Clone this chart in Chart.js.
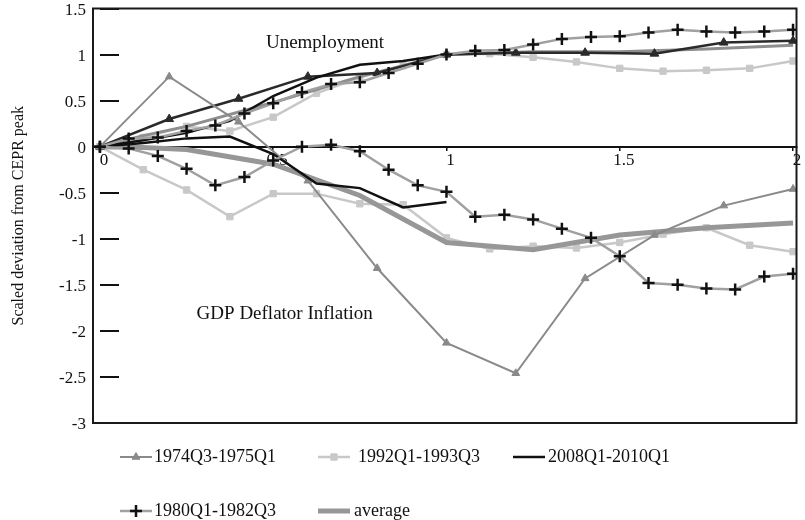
<!DOCTYPE html>
<html>
<head>
<meta charset="utf-8">
<script src="https://cdn.jsdelivr.net/npm/chart.js@4.4.1/dist/chart.umd.min.js"></script>
<style>
  html, body { margin: 0; padding: 0; background: #fff; }
</style>
</head>
<body>
<canvas id="chart" width="805" height="520"></canvas>
<script>
// time since CEPR peak, scaled (each episode has its own step)
const x1974 = [0, 0.2, 0.4, 0.6, 0.8, 1, 1.2, 1.4, 1.6, 1.8, 2];
const x1992 = [0, 0.125, 0.25, 0.375, 0.5, 0.625, 0.75, 0.875, 1, 1.125, 1.25, 1.375, 1.5, 1.625, 1.75, 1.875, 2];
const x2008 = [0, 0.125, 0.25, 0.375, 0.5, 0.625, 0.75, 0.875, 1];
const x1980 = [0, 0.083, 0.167, 0.25, 0.333, 0.417, 0.5, 0.583, 0.667, 0.75, 0.833, 0.917, 1,
               1.083, 1.167, 1.25, 1.333, 1.417, 1.5, 1.583, 1.667, 1.75, 1.833, 1.917, 2];
const xAvg = [0, 0.125, 0.25, 0.5, 0.75, 1, 1.25, 1.5, 1.75, 2];

// unemployment (upper bundle)
const unemp1974 = [0, 0.30, 0.52, 0.76, 0.80, 1.0, 1.02, 1.02, 1.01, 1.13, 1.15];
const unemp1992 = [0, 0.10, 0.22, 0.17, 0.32, 0.58, 0.75, 0.88, 1.0, 1.01, 0.97, 0.92, 0.85, 0.82, 0.83, 0.85, 0.93];
const unemp2008 = [0, 0.07, 0.15, 0.28, 0.55, 0.75, 0.89, 0.93, 1.0];
const unemp1980 = [0, 0.09, 0.10, 0.17, 0.23, 0.36, 0.47, 0.59, 0.68, 0.70, 0.80, 0.90, 1.0,
                   1.04, 1.05, 1.11, 1.17, 1.19, 1.20, 1.24, 1.27, 1.25, 1.24, 1.25, 1.27];
const unempAvg = [0, 0.12, 0.22, 0.48, 0.76, 1.0, 1.03, 1.03, 1.06, 1.10];

// GDP deflator inflation (lower bundle)
const infl1974 = [0, 0.76, 0.27, -0.37, -1.32, -2.13, -2.46, -1.43, -0.96, -0.64, -0.46];
const infl1992 = [0, -0.25, -0.47, -0.76, -0.51, -0.51, -0.62, -0.63, -0.99, -1.11, -1.08, -1.10, -1.04, -0.95, -0.88, -1.07, -1.14];
const infl2008 = [0, 0.04, 0.09, 0.11, -0.08, -0.40, -0.45, -0.66, -0.60];
const infl1980 = [0, -0.02, -0.10, -0.24, -0.42, -0.33, -0.15, 0.0, 0.02, -0.05, -0.25, -0.42, -0.49,
                  -0.76, -0.74, -0.79, -0.89, -0.99, -1.19, -1.48, -1.50, -1.54, -1.55, -1.41, -1.38];
const inflAvg = [0, -0.01, -0.03, -0.19, -0.53, -1.04, -1.12, -0.96, -0.88, -0.83];

const yTicks = { min: -3, max: 1.5, step: 0.5 };
const xTicks = { min: -0.02, max: 2.01, step: 0.5 };

const serif = '"Liberation Serif", "DejaVu Serif", serif';
Chart.defaults.font.family = serif;
Chart.defaults.color = '#111';

const pts = (xs, ys) => xs.map((x, i) => ({ x: x, y: ys[i] }));
const plainNum = v => String(v);

const style1974 = { borderColor: '#8a8a8a', borderWidth: 2, pointStyle: 'triangle', pointRadius: 4.5,
  pointBackgroundColor: '#8a8a8a', pointBorderColor: '#8a8a8a', pointBorderWidth: 1 };
const style1974u = { borderColor: '#2a2a2a', borderWidth: 2.5, pointStyle: 'triangle', pointRadius: 5,
  pointBackgroundColor: '#2a2a2a', pointBorderColor: '#2a2a2a', pointBorderWidth: 1 };
const style1992 = { borderColor: '#c8c8c8', borderWidth: 2.5, pointStyle: 'rect', pointRadius: 4.5,
  pointBackgroundColor: '#c8c8c8', pointBorderColor: '#c8c8c8', pointBorderWidth: 1 };
const style2008 = { borderColor: '#111', borderWidth: 2.5, pointRadius: 0 };
const style1980 = { borderColor: '#a0a0a0', borderWidth: 2.5, pointStyle: 'cross', pointRadius: 6,
  pointBackgroundColor: '#111', pointBorderColor: '#111', pointBorderWidth: 2.5 };
const styleAvg = { borderColor: '#979797', borderWidth: 5, pointRadius: 0 };
const styleAvgU = { borderColor: '#8e8e8e', borderWidth: 3, pointRadius: 0 };

const datasets = [
  { label: '1980Q1-1982Q3', data: pts(x1980, infl1980), ...style1980 },
  { label: '1980Q1-1982Q3 u', data: pts(x1980, unemp1980), ...style1980 },
  { label: '2008Q1-2010Q1', data: pts(x2008, infl2008), ...style2008 },
  { label: '2008Q1-2010Q1 u', data: pts(x2008, unemp2008), ...style2008 },
  { label: '1974Q3-1975Q1', data: pts(x1974, infl1974), ...style1974 },
  { label: '1974Q3-1975Q1 u', data: pts(x1974, unemp1974), ...style1974u },
  { label: 'average', data: pts(xAvg, inflAvg), ...styleAvg },
  { label: 'average u', data: pts(xAvg, unempAvg), ...styleAvgU },
  { label: '1992Q1-1993Q3', data: pts(x1992, infl1992), ...style1992 },
  { label: '1992Q1-1993Q3 u', data: pts(x1992, unemp1992), ...style1992 }
];

// legend slots: [dataset label, line start x, text x, row y]
const legendSlots = [
  ['1974Q3-1975Q1', 120, 154, 457],
  ['1992Q1-1993Q3', 318, 358, 457],
  ['2008Q1-2010Q1', 513, 548, 457],
  ['1980Q1-1982Q3', 120, 154, 511],
  ['average', 318, 354, 511]
];

const framePlugin = {
  id: 'frame',
  afterDatasetsDraw(chart) {
    const { ctx, chartArea: a } = chart;
    ctx.save();
    ctx.strokeStyle = '#1a1a1a';
    ctx.lineWidth = 2;
    ctx.strokeRect(a.left, a.top, a.right - a.left, a.bottom - a.top);
    ctx.restore();
  }
};

const notesPlugin = {
  id: 'notes',
  afterDatasetsDraw(chart) {
    const { ctx, scales: { x, y } } = chart;
    ctx.save();
    ctx.font = '19px ' + serif;
    ctx.fillStyle = '#111';
    ctx.textBaseline = 'middle';
    ctx.fillText('Unemployment', x.getPixelForValue(0.479), y.getPixelForValue(1.13));
    ctx.fillText('GDP Deflator Inflation', x.getPixelForValue(0.279), y.getPixelForValue(-1.815));
    ctx.restore();
  }
};

const legendPlugin = {
  id: 'customLegend',
  afterDraw(chart) {
    const ctx = chart.ctx;
    ctx.save();
    legendSlots.forEach(([label, lx, tx, ly]) => {
      const ds = chart.data.datasets.find(d => d.label === label);
      ctx.strokeStyle = ds.borderColor;
      ctx.lineWidth = ds.borderWidth;
      ctx.beginPath();
      ctx.moveTo(lx, ly);
      ctx.lineTo(lx + 32, ly);
      ctx.stroke();
      if (ds.pointRadius > 0) {
        ctx.fillStyle = ds.pointBackgroundColor;
        ctx.strokeStyle = ds.pointBorderColor;
        ctx.lineWidth = ds.pointBorderWidth;
        Chart.helpers.drawPoint(ctx, { pointStyle: ds.pointStyle, radius: ds.pointRadius,
          borderWidth: ds.pointBorderWidth, rotation: 0 }, lx + 16, ly);
      }
      ctx.fillStyle = '#111';
      ctx.font = '18px ' + serif;
      ctx.textBaseline = 'middle';
      ctx.fillText(label, tx, ly);
    });
    ctx.restore();
  }
};

new Chart(document.getElementById('chart'), {
  type: 'scatter',
  data: { datasets: datasets.map(d => ({ ...d, showLine: true, tension: 0, fill: false })) },
  options: {
    responsive: false,
    animation: false,
    devicePixelRatio: 1,
    layout: { padding: { top: 8, right: 0, bottom: 97, left: 0 } },
    plugins: { legend: { display: false }, tooltip: { enabled: false } },
    scales: {
      x: {
        type: 'linear', min: xTicks.min, max: xTicks.max, position: { y: 0 },
        afterFit(s) { s.paddingLeft = 0; s.paddingRight = 0; },
        ticks: { stepSize: xTicks.step, includeBounds: false, font: { size: 17 }, color: '#111',
                 padding: 1, labelOffset: 4, maxRotation: 0, autoSkip: false, callback: plainNum },
        grid: { drawOnChartArea: false, tickLength: 3, color: '#111', lineWidth: 1.5 },
        border: { color: '#111', width: 2 }
      },
      y: {
        type: 'linear', position: 'left', min: yTicks.min, max: yTicks.max,
        afterFit(s) { s.width = 93; s.paddingTop = 0; s.paddingBottom = 0; },
        ticks: { stepSize: yTicks.step, font: { size: 17 }, color: '#111', padding: 7, labelOffset: 2,
                 callback: plainNum },
        grid: { display: false, drawTicks: false },
        border: { display: false },
        title: { display: true, text: 'Scaled deviation from CEPR peak', font: { size: 16 },
                 color: '#111', padding: { top: 9, bottom: 0 } }
      },
      yDash: {
        type: 'linear', axis: 'y', position: { x: 0 }, min: yTicks.min, max: yTicks.max,
        afterFit(s) { s.width = 0; s.paddingTop = 0; s.paddingBottom = 0; },
        ticks: { display: false, stepSize: yTicks.step },
        grid: { drawOnChartArea: false, tickLength: -19, color: '#111', lineWidth: 2 },
        border: { display: false }
      }
    }
  },
  plugins: [framePlugin, notesPlugin, legendPlugin]
});
</script>
</body>
</html>
